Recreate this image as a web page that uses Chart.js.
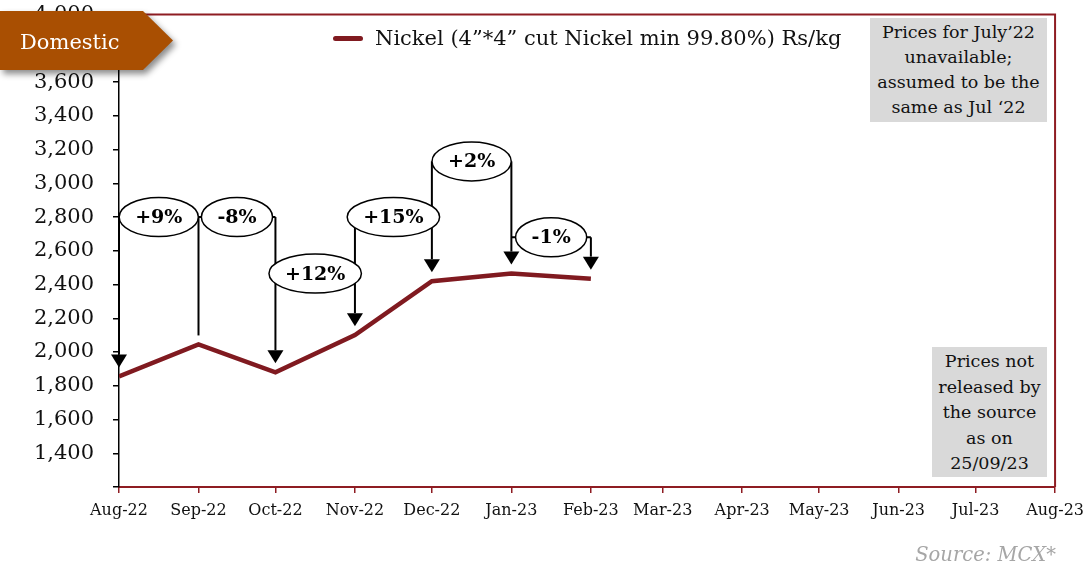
<!DOCTYPE html>
<html>
<head>
<meta charset="utf-8">
<script src="https://cdn.jsdelivr.net/npm/chart.js@4"></script>
<style>
  html, body { margin: 0; padding: 0; background: #fff; }
  #wrap { position: relative; width: 1086px; height: 565px; overflow: hidden; font-family: "DejaVu Serif", serif; }
  #wrap canvas { position: absolute; left: 0; top: -17px; }
  .badge-shadow { position: absolute; left: 0; top: 11px; width: 176px; height: 62px; filter: drop-shadow(3px 4px 3px rgba(0,0,0,0.45)); z-index: 3; }
  .badge { width: 173px; height: 59px; background: #A94F02; clip-path: polygon(0 0, 143px 0, 173px 50%, 143px 100%, 0 100%); color: #fff; font-size: 21px; line-height: 62px; padding-left: 20px; box-sizing: border-box; }
  .legend { position: absolute; left: 333px; top: 24px; height: 28px; display: flex; align-items: center; z-index: 2; font-size: 21px; color: #111; white-space: nowrap; }
  .legend .sw { width: 30px; height: 5px; border-radius: 3px; background: #801A20; margin-right: 12px; }
  .note { position: absolute; background: #D9D9D9; text-align: center; color: #111; font-size: 17.5px; z-index: 2; }
  .n1 { left: 870px; top: 18px; width: 177px; height: 104px; line-height: 25px; padding-top: 2px; box-sizing: border-box; }
  .n2 { left: 932px; top: 347px; width: 115px; height: 130px; line-height: 25.6px; padding-top: 2px; box-sizing: border-box; }
  .source { position: absolute; right: 30px; top: 543px; font-style: italic; font-size: 19.5px; color: #A6A6A6; z-index: 2; }
</style>
</head>
<body>
<div id="wrap">
  <canvas id="c" width="1092" height="582"></canvas>
  <div class="badge-shadow"><div class="badge">Domestic</div></div>
  <div class="legend"><div class="sw"></div><span id="legendText"></span></div>
  <div class="note n1">Prices for July’22<br>unavailable;<br>assumed to be the<br>same as Jul ‘22</div>
  <div class="note n2">Prices not<br>released by<br>the source<br>as on<br>25/09/23</div>
  <div class="source">Source: MCX*</div>
</div>
<script>
// ---- data ----
const tickLabels = ['Aug-22','Sep-22','Oct-22','Nov-22','Dec-22','Jan-23','Feb-23','Mar-23','Apr-23','May-23','Jun-23','Jul-23','Aug-23'];
const tickDates  = ['2022-08-01','2022-09-01','2022-10-01','2022-11-01','2022-12-01','2023-01-01','2023-02-01','2023-03-01','2023-04-01','2023-05-01','2023-06-01','2023-07-01','2023-08-01'];
const categories = ['Aug-22','Sep-22','Oct-22','Nov-22','Dec-22','Jan-23','Feb-23'];
const nickelPrices = [1855, 2045, 1880, 2100, 2420, 2465, 2435];
const changeLabels = ['+9%','-8%','+12%','+15%','+2%','-1%'];
const seriesName = 'Nickel (4”*4” cut Nickel min 99.80%) Rs/kg';

document.getElementById('legendText').textContent = seriesName;

const dayOf = s => (Date.parse(s) - Date.parse(tickDates[0])) / 864e5;
const points = categories.map((c, i) => ({ x: dayOf(tickDates[tickLabels.indexOf(c)]), y: nickelPrices[i] }));

const RED = '#801A20';
const FRAME = '#8E1C22';

// annotation layout (bracket levels in value units, arrow flags per month)
const bracketCfg = {
  levels: [2800, 2800, 2465, 2800, 3130, 2680],
  arrows: [true, false, true, true, true, true, true],
  gap: 9
};

const framePlugin = {
  id: 'frame',
  beforeDatasetsDraw(chart) {
    const { ctx, chartArea: a } = chart;
    ctx.save();
    ctx.strokeStyle = FRAME;
    ctx.lineWidth = 2;
    ctx.beginPath();
    ctx.moveTo(a.left, a.top);
    ctx.lineTo(a.right, a.top);
    ctx.lineTo(a.right, a.bottom);
    ctx.stroke();
    ctx.restore();
  }
};

const bracketPlugin = {
  id: 'brackets',
  afterDatasetsDraw(chart) {
    const { ctx } = chart;
    const xs = chart.scales.x, ys = chart.scales.y;
    const px = points.map(p => xs.getPixelForValue(p.x));
    const py = points.map(p => ys.getPixelForValue(p.y));
    const lv = bracketCfg.levels.map(v => ys.getPixelForValue(v));
    ctx.save();
    ctx.strokeStyle = '#000';
    ctx.fillStyle = '#000';
    ctx.lineWidth = 2;
    for (let i = 0; i < points.length; i++) {
      const tops = [];
      if (i > 0) tops.push(lv[i - 1]);
      if (i < lv.length) tops.push(lv[i]);
      const top = Math.min(...tops);
      const tip = py[i] - bracketCfg.gap;
      const ah = bracketCfg.arrows[i] ? 13 : 0;
      ctx.beginPath();
      ctx.moveTo(px[i], top);
      ctx.lineTo(px[i], tip - ah);
      ctx.stroke();
      if (ah) {
        ctx.beginPath();
        ctx.moveTo(px[i] - 8, tip - ah);
        ctx.lineTo(px[i] + 8, tip - ah);
        ctx.lineTo(px[i], tip);
        ctx.closePath();
        ctx.fill();
      }
    }
    for (let i = 0; i < lv.length; i++) {
      ctx.beginPath();
      ctx.moveTo(px[i], lv[i]);
      ctx.lineTo(px[i + 1], lv[i]);
      ctx.stroke();
    }
    ctx.font = 'bold 19px "DejaVu Serif"';
    ctx.textAlign = 'center';
    ctx.textBaseline = 'middle';
    for (let i = 0; i < lv.length; i++) {
      const cx = (px[i] + px[i + 1]) / 2;
      const cy = lv[i];
      const w = ctx.measureText(changeLabels[i]).width;
      const rx = Math.min((w + 32) / 2, (px[i + 1] - px[i]) / 2 + 8);
      const ry = 19.5;
      ctx.beginPath();
      ctx.ellipse(cx, cy, rx, ry, 0, 0, Math.PI * 2);
      ctx.fillStyle = '#fff';
      ctx.fill();
      ctx.lineWidth = 1.5;
      ctx.stroke();
      ctx.fillStyle = '#000';
      ctx.fillText(changeLabels[i], cx, cy + 1);
    }
    ctx.restore();
  }
};

new Chart(document.getElementById('c'), {
  type: 'line',
  data: {
    datasets: [{
      label: seriesName,
      data: points,
      borderColor: RED,
      backgroundColor: RED,
      borderWidth: 4.5,
      pointRadius: 0,
      tension: 0,
      fill: false
    }]
  },
  options: {
    responsive: false,
    animation: false,
    devicePixelRatio: 1,
    layout: { padding: { left: 0, top: 0, right: 0, bottom: 38 } },
    plugins: { legend: { display: false }, tooltip: { enabled: false } },
    scales: {
      x: {
        type: 'linear',
        min: 0,
        max: dayOf(tickDates[tickDates.length - 1]),
        afterBuildTicks: s => { s.ticks = tickDates.map(d => ({ value: dayOf(d) })); },
        afterFit: s => { s.height = 40; },
        border: { color: FRAME, width: 2 },
        grid: { drawOnChartArea: false, drawTicks: true, tickLength: 6, color: FRAME, lineWidth: 1.5 },
        ticks: {
          autoSkip: false, maxRotation: 0, padding: 8,
          color: '#111',
          font: { family: 'DejaVu Serif', size: 16 },
          callback: (v, i) => tickLabels[i]
        }
      },
      y: {
        min: 1200,
        max: 4000,
        afterFit: s => { s.width = 119; },
        border: { color: '#000', width: 1.5 },
        grid: { drawOnChartArea: false, drawTicks: true, tickLength: 6, color: '#000', lineWidth: 1.5 },
        ticks: {
          stepSize: 200, padding: 19,
          color: '#111',
          font: { family: 'DejaVu Serif', size: 21 },
          callback: v => v === 1200 ? '' : v.toLocaleString('en-US')
        }
      }
    }
  },
  plugins: [framePlugin, bracketPlugin]
});
</script>
</body>
</html>
